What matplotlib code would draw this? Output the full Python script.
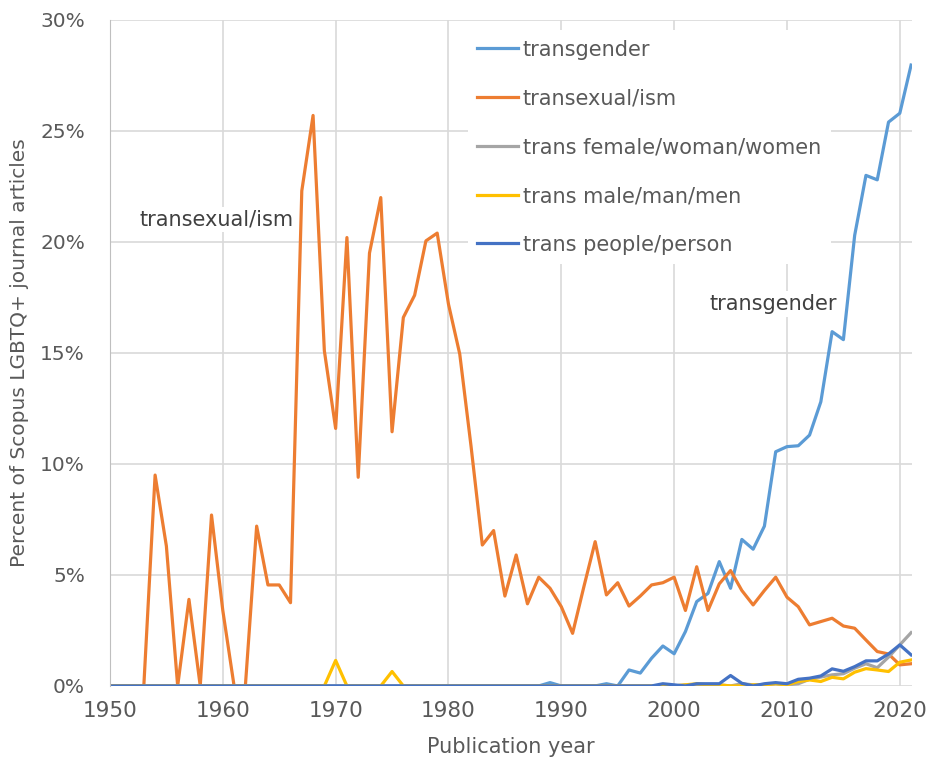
import numpy as np
import matplotlib.pyplot as plt

# Data (percent of Scopus LGBTQ+ journal articles)
years = np.arange(1950, 2022)

transgender = [0]*39 + [0.15, 0, 0, 0, 0, 0.1, 0,          # 1950-1995
               0.72, 0.58, 1.25, 1.8, 1.45, 2.45, 3.8, 4.17, 5.6, 4.4,   # 1996-2005
               6.6, 6.16, 7.2, 10.55, 10.78, 10.82, 11.3, 12.8, 15.96, 15.6,  # 2006-2015
               20.3, 23.0, 22.8, 25.4, 25.8, 27.97]             # 2016-2021

transexual = [0, 0, 0, 0, 9.5, 6.3, 0, 3.9, 0, 7.7,            # 1950s
              3.4, 0, 0, 7.2, 4.55, 4.55, 3.75, 22.3, 25.7, 15.1,  # 1960s
              11.6, 20.2, 9.4, 19.5, 22.0, 11.45, 16.6, 17.6, 20.05, 20.4,  # 1970s
              17.2, 14.95, 10.8, 6.35, 7.0, 4.05, 5.9, 3.7, 4.9, 4.4,  # 1980s
              3.57, 2.37, 4.47, 6.5, 4.1, 4.65, 3.6, 4.05, 4.55, 4.65,  # 1990s
              4.9, 3.4, 5.37, 3.4, 4.6, 5.2, 4.3, 3.65, 4.3, 4.9,  # 2000s
              4.0, 3.57, 2.75, 2.9, 3.05, 2.7, 2.6, 2.07, 1.55, 1.44,  # 2010s
              0.95, 1.0]

trans_female = [0]*50 + [0, 0.05, 0.05, 0.05, 0.05, 0.0, 0.1, 0.05, 0.05, 0.1,  # 2000s
                0.05, 0.1, 0.3, 0.4, 0.5, 0.55, 0.8, 1.0, 0.82, 1.3,
                1.85, 2.4]

trans_male = [0]*20 + [1.15, 0, 0, 0, 0, 0.65, 0, 0, 0, 0] + [0]*20 + \
             [0.0, 0.05, 0.1, 0.05, 0.05, 0.0, 0.0, 0.05, 0.05, 0.1,
              0.05, 0.2, 0.27, 0.2, 0.39, 0.32, 0.62, 0.78, 0.72, 0.65,
              1.07, 1.17]

trans_people = [0]*49 + [0.1,
                0.05, 0.0, 0.1, 0.1, 0.1, 0.47, 0.12, 0.0, 0.1, 0.15,
                0.1, 0.3, 0.35, 0.45, 0.77, 0.66, 0.87, 1.13, 1.13, 1.44,
                1.85, 1.4]

series = [
    ("transgender", transgender, "#5B9BD5"),
    ("transexual/ism", transexual, "#ED7D31"),
    ("trans female/woman/women", trans_female, "#A5A5A5"),
    ("trans male/man/men", trans_male, "#FFC000"),
    ("trans people/person", trans_people, "#4472C4"),
]

plt.rcParams['font.family'] = ["DejaVu Sans"]

fig = plt.figure(figsize=(9.28, 7.69), dpi=100)
ax = fig.add_axes([0.1185, 0.108, 0.8645, 0.866])

for name, vals, col in series:
    ax.plot(years, vals, color=col, lw=2.3, label=name)

ax.set_xlim(1950, 2021.1)
ax.set_ylim(0, 30)
ax.set_xticks(range(1950, 2021, 10))
ax.set_yticks(range(0, 31, 5))
ax.set_yticklabels([f"{v}%" for v in range(0, 31, 5)], fontsize=14.5, color="#595959")
ax.tick_params(axis='x', labelsize=15.5, colors="#595959", length=0, pad=11)
ax.tick_params(axis='y', length=0, pad=18)
ax.grid(True, color="#D9D9D9", lw=1.2)
ax.set_axisbelow(True)
for s in ["top", "right", "bottom"]:
    ax.spines[s].set_visible(False)
ax.spines["left"].set_color("#BFBFBF")

ax.set_xlabel("Publication year", fontsize=15, color="#595959", labelpad=11)
ax.set_ylabel("Percent of Scopus LGBTQ+ journal articles", fontsize=14.5,
              color="#595959", labelpad=8)

leg = ax.legend(loc="upper left", bbox_to_anchor=(0.433, 1.0), frameon=True,
                fontsize=15, handlelength=1.95, labelspacing=1.38,
                handletextpad=0.25, borderpad=0.45, borderaxespad=0.5,
                fancybox=False, framealpha=1)
leg.get_frame().set_edgecolor("none")
leg.get_frame().set_facecolor("white")
for t in leg.get_texts():
    t.set_color("#595959")

box = dict(facecolor="white", edgecolor="none", pad=2)
ax.text(1952.6, 21.0, "transexual/ism", fontsize=15, color="#404040",
        va="center", bbox=box)
ax.text(2003.1, 17.2, "transgender", fontsize=15, color="#404040",
        va="center", bbox=box)

fig.savefig("out.png", dpi=100)
